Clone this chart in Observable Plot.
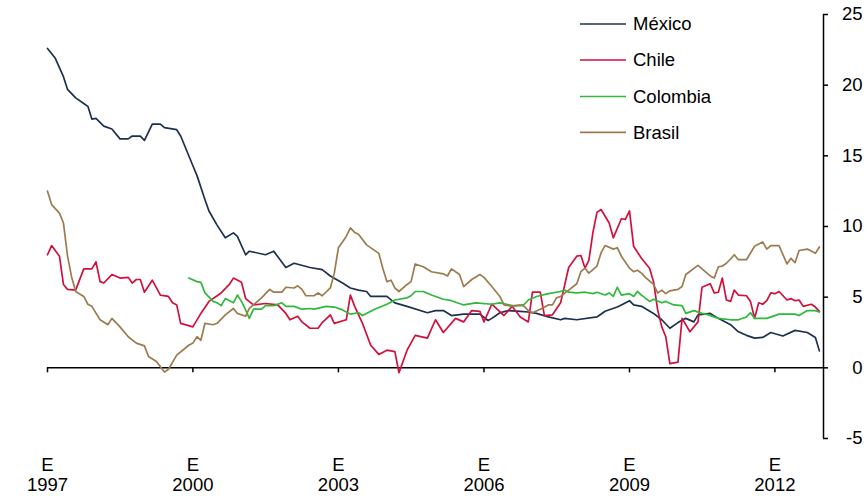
<!DOCTYPE html>
<html>
<head>
<meta charset="utf-8">
<script src="https://cdn.jsdelivr.net/npm/d3@7"></script>
<script src="https://cdn.jsdelivr.net/npm/@observablehq/plot@0.6"></script>
<style>
  html, body { margin: 0; padding: 0; background: #fff; }
  #chart { width: 867px; height: 496px; }
</style>
</head>
<body>
<div id="chart"></div>
<script>
// [months since Jan 1997, annual inflation %]
const mexico = [[0,22.6],[2,21.9],[4,20.6],[5,19.7],[7,19.1],[9,18.7],[10,18.5],[11,17.6],[12,17.65],[14,17.1],[16,16.9],[18,16.2],[20,16.2],[21,16.4],[23,16.4],[24,16.1],[25,16.7],[26,17.25],[28,17.25],[29,17.0],[32,16.85],[33,16.4],[36,14.3],[37,13.6],[39,11.9],[40,11.1],[42,10.1],[44,9.2],[46,9.55],[47,9.3],[49,8.0],[50,8.25],[54,8.0],[56,8.25],[59,7.1],[61,7.4],[65,7.1],[68,6.95],[70,6.5],[73,6.0],[75,5.65],[77,5.5],[79,5.4],[80,5.05],[84,5.05],[86,4.6],[89,4.35],[94,3.9],[96,4.05],[98,4.05],[100,3.7],[103,3.8],[107,3.8],[109,3.35],[110,3.5],[112,3.9],[114,4.05],[117,4.0],[119,3.95],[121,3.85],[124,3.6],[127,3.4],[128,3.5],[131,3.4],[136,3.6],[138,4.0],[141,4.3],[142,4.45],[144,4.75],[145,4.45],[147,4.35],[150,3.85],[152,3.4],[154,2.8],[156,3.2],[158,3.5],[160,3.25],[161,3.75],[164,3.85],[166,3.5],[169,3.05],[171,2.55],[173,2.3],[175,2.1],[177,2.15],[179,2.5],[182,2.25],[185,2.65],[188,2.5],[190,2.15],[191,1.2]];
const chile = [[0,8.0],[1,8.65],[3,7.9],[4,5.9],[5,5.55],[7,5.5],[9,7.0],[11,7.0],[12,7.5],[13,6.1],[14,6.0],[16,6.6],[18,6.35],[20,6.4],[21,6.0],[22,6.25],[23,6.25],[24,5.35],[26,6.2],[28,5.15],[30,5.05],[31,4.6],[32,4.45],[33,3.15],[36,2.9],[38,3.85],[40,4.7],[43,5.3],[45,5.9],[46,6.35],[48,6.05],[49,4.9],[51,4.45],[54,4.55],[57,4.45],[59,3.85],[60,3.4],[62,3.65],[63,3.25],[65,2.8],[67,2.8],[68,3.2],[70,3.75],[71,3.15],[74,3.4],[75,5.15],[76,4.4],[78,3.15],[80,1.6],[82,0.95],[84,1.25],[86,1.15],[87,-0.35],[89,1.25],[91,2.3],[94,2.1],[96,3.4],[98,2.5],[101,3.5],[103,3.25],[105,4.05],[107,4.0],[108,3.25],[110,4.5],[113,3.7],[115,4.35],[117,3.6],[119,3.25],[120,5.35],[122,5.35],[123,3.7],[125,3.75],[127,4.6],[129,7.1],[131,7.9],[132,7.95],[133,7.05],[134,7.6],[135,9.6],[136,11.0],[137,11.2],[139,10.25],[140,9.2],[142,10.55],[143,10.5],[144,11.1],[145,8.6],[147,7.75],[149,7.05],[150,6.1],[151,4.1],[152,2.9],[153,2.2],[154,0.3],[156,0.4],[157,3.5],[159,2.55],[161,3.25],[162,5.7],[164,5.95],[165,5.3],[166,5.35],[167,6.35],[168,4.8],[169,4.7],[170,5.5],[171,5.15],[173,5.1],[174,4.7],[175,3.5],[176,4.6],[177,4.5],[178,4.75],[179,5.3],[180,5.25],[181,5.4],[183,4.8],[184,4.9],[185,4.75],[186,4.8],[187,4.35],[189,4.5],[190,4.3],[191,4.0]];
const colombia = [[35,6.35],[37,6.1],[38,6.05],[39,5.3],[41,4.7],[42,4.6],[43,4.4],[44,4.9],[46,4.6],[47,5.15],[48,4.7],[49,4.1],[50,3.5],[51,4.15],[53,4.15],[54,4.4],[56,4.4],[58,4.6],[59,4.35],[61,4.35],[63,4.15],[65,4.2],[66,4.15],[69,4.35],[71,4.3],[73,4.1],[75,3.8],[77,3.9],[78,3.7],[81,4.15],[84,4.5],[86,4.8],[89,4.95],[90,5.1],[91,5.4],[93,5.4],[95,5.15],[98,4.85],[100,4.75],[103,4.45],[106,4.6],[110,4.5],[112,4.6],[115,4.4],[117,4.4],[118,4.5],[119,4.8],[121,5.05],[124,5.25],[127,5.4],[128,5.5],[129,5.35],[131,5.3],[133,5.35],[135,5.25],[136,5.35],[138,5.15],[139,5.3],[140,5.05],[141,5.7],[142,5.15],[144,5.25],[145,5.05],[146,5.4],[147,5.15],[149,4.7],[150,4.85],[152,4.6],[153,4.7],[155,4.45],[157,4.4],[158,3.85],[160,4.05],[162,3.85],[163,3.8],[166,3.5],[169,3.4],[171,3.4],[173,3.6],[174,3.9],[175,3.5],[178,3.5],[181,3.8],[185,3.8],[186,3.7],[188,4.05],[190,4.05],[191,3.95]];
const brasil = [[0,12.5],[1,11.55],[3,10.95],[4,10.25],[5,7.9],[6,6.45],[7,5.4],[9,5.05],[10,4.5],[11,4.35],[13,3.4],[15,3.05],[16,3.5],[18,2.9],[20,2.2],[22,1.75],[24,1.55],[25,0.8],[27,0.45],[29,-0.3],[30,-0.1],[32,0.9],[35,1.6],[36,1.75],[37,2.2],[38,1.95],[39,3.15],[41,3.05],[42,3.15],[44,3.75],[46,4.2],[47,3.85],[49,3.65],[50,4.2],[53,4.95],[55,5.55],[56,5.35],[58,5.35],[59,5.7],[61,5.65],[62,5.8],[63,5.55],[64,5.1],[66,5.1],[67,5.3],[68,5.1],[70,5.65],[71,6.7],[72,8.5],[74,9.3],[75,9.9],[76,9.6],[77,9.45],[79,8.7],[82,8.1],[83,7.05],[84,6.1],[85,6.2],[86,5.65],[87,5.4],[89,5.9],[90,6.1],[91,7.35],[93,7.15],[95,6.8],[98,6.65],[99,6.5],[100,7.0],[102,6.6],[103,5.75],[105,6.25],[107,6.6],[108,6.4],[110,5.75],[112,5.05],[113,4.45],[115,4.35],[117,4.45],[118,4.35],[119,4.05],[120,3.9],[122,4.15],[124,4.45],[125,4.45],[126,4.95],[127,5.05],[129,5.5],[131,5.95],[132,6.8],[133,7.05],[134,6.7],[136,7.2],[137,8.15],[138,8.65],[140,8.4],[141,8.5],[142,7.9],[144,7.05],[145,6.8],[146,6.9],[147,6.7],[148,6.4],[150,5.9],[151,5.3],[152,5.5],[153,5.25],[154,5.45],[156,5.55],[157,5.75],[158,6.6],[161,7.25],[162,7.0],[164,6.5],[165,6.35],[166,7.15],[167,7.2],[168,7.4],[169,7.7],[170,8.0],[171,7.65],[173,7.65],[175,8.6],[177,8.9],[178,8.4],[179,8.65],[181,8.65],[183,7.35],[184,7.75],[185,7.45],[186,8.3],[188,8.4],[190,8.1],[191,8.55]];

const seriesNames = ["México", "Chile", "Colombia", "Brasil"];
const seriesColors = ["#1c3150", "#d1103c", "#2fb83a", "#9c7b4e"];
const tickYears = [1997, 2000, 2003, 2006, 2009, 2012];
const yTicks = [-5, 0, 5, 10, 15, 20, 25];

const start = new Date(Date.UTC(1997, 0, 1));
const end = new Date(Date.UTC(2013, 0, 1));
const toDate = m => d3.utcMonth.offset(start, m);

const table = [];
[mexico, chile, colombia, brasil].forEach((arr, i) => {
  arr.forEach(([m, v]) => table.push({ country: seriesNames[i], date: toDate(m), value: v }));
});
const tickDates = tickYears.map(y => new Date(Date.UTC(y, 0, 1)));

const chart = Plot.plot({
  width: 867,
  height: 496,
  marginLeft: 47,
  marginRight: 44,
  marginTop: 14,
  marginBottom: 58,
  x: { type: "utc", domain: [start, end], axis: null },
  y: { domain: [-5, 25], axis: null },
  color: { domain: seriesNames, range: seriesColors },
  style: { fontFamily: "'Liberation Sans', Arial, sans-serif", fontSize: "18.5px", background: "#fff", color: "#000" },
  marks: [
    Plot.ruleY([0], { stroke: "#000", strokeWidth: 1.5 }),
    Plot.ruleX(tickDates, { y1: 0, y2: 0, insetBottom: -5, stroke: "#000", strokeWidth: 1.5 }),
    Plot.ruleX([end], { y1: -5, y2: 25, stroke: "#000", strokeWidth: 1.5 }),
    Plot.ruleY(yTicks, { x1: end, x2: end, insetRight: -5, stroke: "#000", strokeWidth: 1.5 }),
    Plot.text(yTicks, { x: end, y: d => d, text: d => String(d), textAnchor: "end", dx: 39, fill: "#000" }),
    Plot.text(tickDates, { x: d => d, frameAnchor: "bottom", text: d => "E\n" + d.getUTCFullYear(), lineAnchor: "top", lineHeight: 1.1, dy: 18, fill: "#000" }),
    Plot.line(table, { x: "date", y: "value", z: "country", stroke: "country", strokeWidth: 1.7, curve: "linear" })
  ]
});

document.getElementById("chart").appendChild(chart);

// legend inside the SVG
const svg = d3.select(chart);
const legendY = [24, 60, 96.5, 132.3];
const lg = svg.append("g")
  .attr("font-family", "'Liberation Sans', Arial, sans-serif")
  .attr("font-size", "18.5px")
  .attr("text-anchor", "start");
seriesNames.forEach((name, i) => {
  lg.append("line").attr("x1", 580).attr("x2", 626).attr("y1", legendY[i]).attr("y2", legendY[i])
    .attr("stroke", seriesColors[i]).attr("stroke-width", 1.7);
  lg.append("text").attr("x", 633).attr("y", legendY[i]).attr("dy", "0.35em")
    .attr("text-anchor", "start").attr("fill", "#000").text(name);
});
</script>
</body>
</html>
